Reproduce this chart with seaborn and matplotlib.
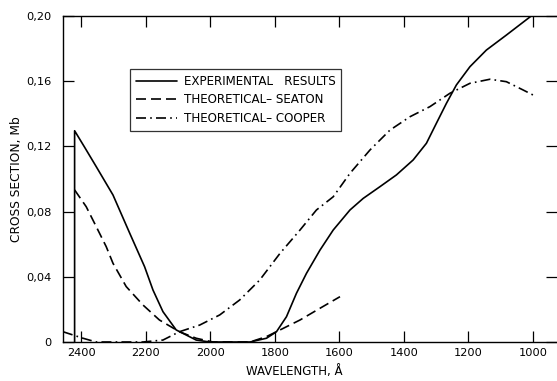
import matplotlib
matplotlib.use("Agg")
import matplotlib.pyplot as plt
import seaborn as sns
import pandas as pd

# ---- data ----
exp_wl = [2421, 2421, 2390, 2354, 2302, 2250, 2204, 2178, 2147, 2106, 2044, 2002,
          1950, 1877, 1826, 1795, 1764, 1733, 1702, 1660, 1619, 1567, 1526, 1474,
          1423, 1371, 1330, 1299, 1268, 1237, 1195, 1144, 1082, 1005]
exp_val = [0.0, 0.1296, 0.1195, 0.1076, 0.0902, 0.0667, 0.0462, 0.0319, 0.0186,
           0.0074, 0.0012, 0.0, 0.0, 0.0, 0.0023, 0.0063, 0.0155, 0.0299, 0.0421,
           0.0564, 0.0687, 0.081, 0.0881, 0.0953, 0.1025, 0.1117, 0.1219, 0.1342,
           0.1464, 0.1577, 0.1689, 0.1791, 0.1883, 0.2000]

sea_wl = [2421, 2385, 2354, 2323, 2302, 2261, 2209, 2158, 2096, 2044, 1992, 1930,
          1877, 1826, 1795, 1722, 1660, 1598]
sea_val = [0.0933, 0.083, 0.0708, 0.0585, 0.0483, 0.034, 0.0227, 0.0135, 0.0063,
           0.0023, 0.0, 0.0, 0.0, 0.0033, 0.0063, 0.0135, 0.0207, 0.0278]

coop_wl = [2457, 2395, 2354, 2300, 2209, 2147, 2096, 2033, 1971, 1909, 1847, 1784,
           1722, 1671, 1619, 1567, 1505, 1443, 1381, 1319, 1257, 1195, 1133, 1082,
           1030, 989]
coop_val = [0.0063, 0.0023, 0.0, 0.0, 0.0, 0.0012, 0.0063, 0.0104, 0.0166, 0.0258,
            0.038, 0.0544, 0.0687, 0.081, 0.0891, 0.1035, 0.1178, 0.130, 0.1382,
            0.1444, 0.1526, 0.1587, 0.1612, 0.1597, 0.1546, 0.1505]

labels = ["EXPERIMENTAL   RESULTS", "THEORETICAL\u2013 SEATON", "THEORETICAL\u2013 COOPER"]
x_ticks = [2400, 2200, 2000, 1800, 1600, 1400, 1200, 1000]
y_ticks = [0.0, 0.04, 0.08, 0.12, 0.16, 0.20]
y_ticklabels = ["0", "0,04", "0,08", "0,12", "0,16", "0,20"]

sns.set_theme(style="white")
plt.rcParams['font.family'] = ['DejaVu Sans']

fig = plt.figure(figsize=(5.57, 3.81), dpi=100)
ax = fig.add_axes([63 / 557, 1 - 342 / 381, 494 / 557, 326 / 381])

df_e = pd.DataFrame({"wl": exp_wl, "val": exp_val})
df_s = pd.DataFrame({"wl": sea_wl, "val": sea_val})
df_c = pd.DataFrame({"wl": coop_wl, "val": coop_val})

sns.lineplot(data=df_e, x="wl", y="val", sort=False, estimator=None, color="black",
             lw=1.2, ax=ax, label=labels[0])
sns.lineplot(data=df_s, x="wl", y="val", sort=False, estimator=None, color="black",
             lw=1.2, ax=ax, label=labels[1])
sns.lineplot(data=df_c, x="wl", y="val", sort=False, estimator=None, color="black",
             lw=1.2, ax=ax, label=labels[2])
ax.lines[1].set_dashes((6, 3))
ax.lines[2].set_dashes((6, 2.5, 1, 2.5))
for ln in ax.lines:
    ln.set_solid_joinstyle("round")
    ln.set_dash_joinstyle("round")

ax.set_xlim(2457, 925)
ax.set_ylim(0, 0.20)
ax.set_xticks(x_ticks)
ax.set_xticklabels([str(t) for t in x_ticks])
ax.set_yticks(y_ticks)
ax.set_yticklabels(y_ticklabels)

for s in ["left", "bottom", "top"]:
    ax.spines[s].set_visible(True)
    ax.spines[s].set_color("black")
    ax.spines[s].set_linewidth(1.0)
ax.spines["right"].set_visible(False)

ax.tick_params(axis="both", direction="in", length=8, width=0.9, color="black",
               labelsize=8.2, labelcolor="black", top=True, right=True,
               bottom=True, left=True)
ax.tick_params(axis="y", pad=8)
ax.tick_params(axis="x", pad=4)

ax.set_xlabel("WAVELENGTH, \u00c5", fontsize=8.5, color="black")
ax.set_ylabel("CROSS SECTION, Mb", fontsize=8.8, color="black")
ax.xaxis.set_label_coords(0.468, -0.072)
ax.yaxis.set_label_coords(-0.081, 0.5)

leg = ax.legend(loc="upper left", bbox_to_anchor=(0.1356, 0.837), borderaxespad=0,
                fontsize=8.6, frameon=True, fancybox=False, edgecolor="black",
                handlelength=3.4, labelspacing=0.45, borderpad=0.5,
                handletextpad=0.6)
leg.get_frame().set_linewidth(0.9)
for t in leg.get_texts():
    t.set_color("black")

fig.savefig("out.png", dpi=100, facecolor="white")
